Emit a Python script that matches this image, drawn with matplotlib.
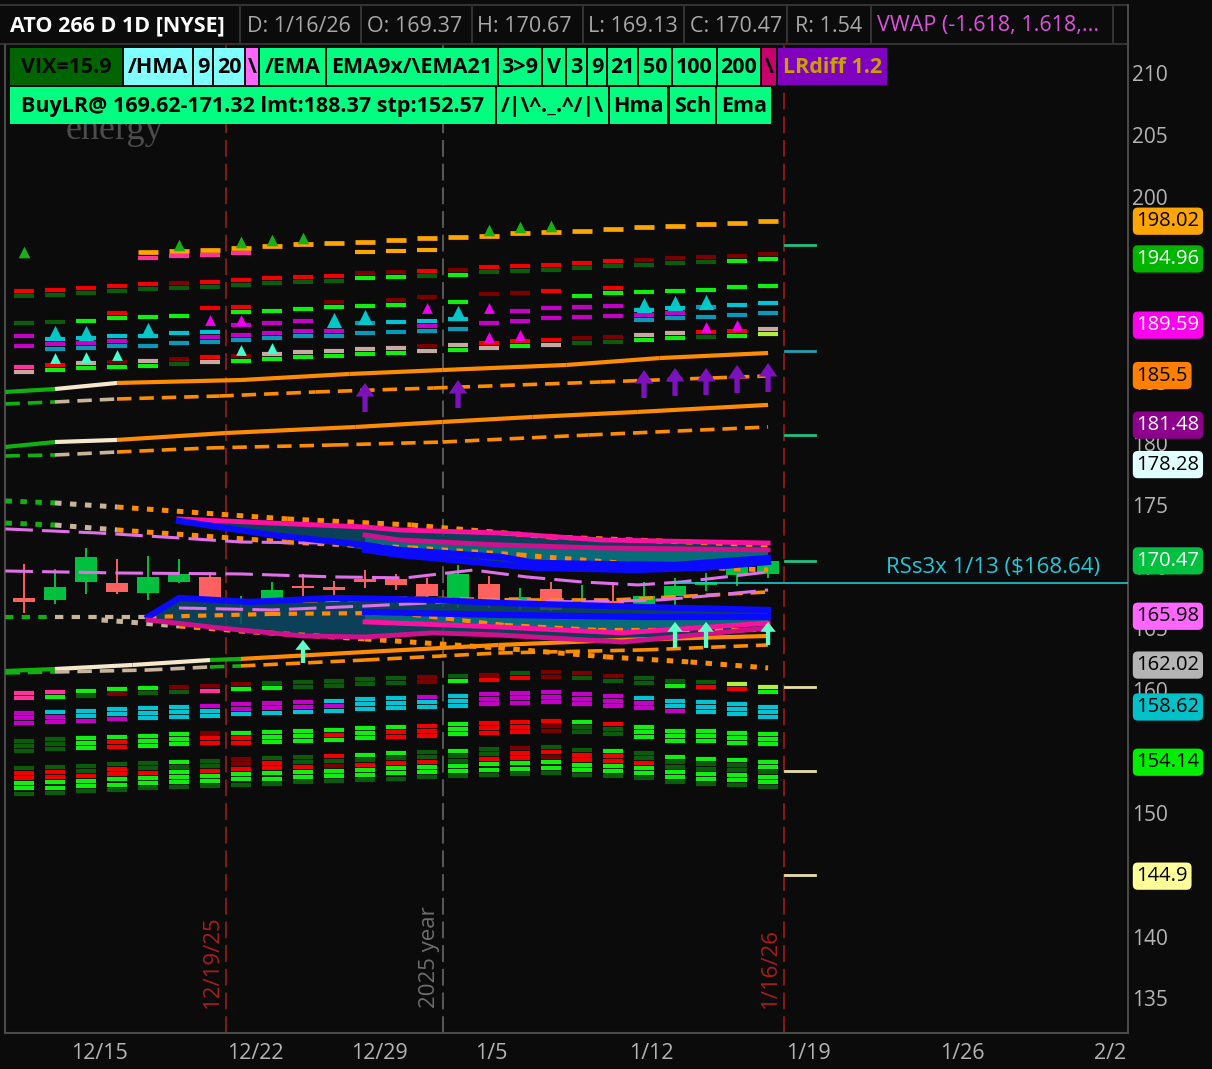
import numpy as np
import matplotlib
matplotlib.use('Agg')
import matplotlib.pyplot as plt
from matplotlib.collections import LineCollection
from matplotlib.patches import Rectangle, Polygon
from matplotlib.transforms import blended_transform_factory

plt.rcParams['font.family'] = ['Open Sans', 'DejaVu Sans']
nan = np.nan

BG = '#0b0b0b'
W, H = 1212, 1069

# ---------------- data ----------------
# daily candles 12/11/25 .. 1/16/26 (x = trading day index)
opens  = [167.46, 167.30, 168.76, 168.68, 167.87, 168.76, 169.17, 166.98, 167.38, 168.43, 168.36, 169.00, 169.00,
          168.60, 167.14, 168.60, 167.38, 168.19, 166.81, 167.22, 166.90, 167.62, 168.52, 169.33, 169.37]
highs  = [170.14, 169.73, 171.44, 170.54, 170.79, 170.54, 169.49, 167.54, 168.68, 169.33, 168.76, 169.65, 169.33,
          169.00, 170.06, 169.17, 168.19, 168.68, 168.43, 168.68, 168.68, 169.00, 169.41, 169.98, 170.67]
lows   = [166.33, 167.06, 167.87, 167.87, 167.38, 168.76, 167.22, 165.43, 167.38, 167.71, 167.46, 168.36, 168.19,
          167.62, 166.73, 166.73, 166.65, 166.49, 166.81, 166.81, 166.90, 166.81, 168.11, 168.52, 169.13]
closes = [167.14, 168.36, 170.79, 167.95, 169.17, 169.41, 167.22, 167.38, 168.11, 168.27, 168.11, 168.76, 168.52,
          167.62, 169.41, 167.14, 167.54, 166.49, 167.06, 166.81, 167.62, 168.43, 168.76, 169.98, 170.47]

date_labels = ['12/15', '12/22', '12/29', '1/5', '1/12', '1/19', '1/26', '2/2']
date_pos = [2.42, 7.45, 11.45, 15.06, 20.23, 25.29, 30.26, 35.03]
price_ticks = [135, 140, 150, 160, 165, 170, 175, 180, 185, 200, 205, 210]

event_x = [6.5, 13.5, 24.5]
event_text = ['12/19/25', '2025 year', '1/16/26']
event_col = ['#a81c1c', '#6e6e6e', '#a81c1c']

# regression channel lines (x, price, colour code per segment)
lr1_x = [-0.6, 1, 3, 7, 10.5, 13.5, 17.5, 20.5, 24]
lr1_y = [184.17, 184.41, 184.90, 185.14, 185.63, 185.95, 186.36, 186.92, 187.33]
lr1_c = 'gcoooooo'
lr1d_x = [-0.6, 1, 3, 6.3, 9.4, 13.2, 18.6, 24]
lr1d_y = [183.20, 183.36, 183.60, 183.84, 184.17, 184.49, 184.98, 185.47]
lr1d_c = 'gtooooo'
lr2_x = [-0.6, 1, 3, 6.5, 10.7, 13.5, 16.4, 19.8, 24]
lr2_y = [179.71, 180.11, 180.28, 180.84, 181.33, 181.74, 182.14, 182.55, 183.12]
lr2_c = 'gcoooooo'
lr2d_x = [-0.6, 1, 3, 6, 10, 13.5, 18.2, 24]
lr2d_y = [178.98, 179.06, 179.30, 179.63, 179.87, 180.11, 180.68, 181.33]
lr2d_c = 'gtooooo'
lr3_x = [-0.6, 1, 3.5, 6, 7, 11, 15.3, 19.3, 24]
lr3_y = [161.54, 161.70, 162.03, 162.43, 162.52, 163.08, 163.65, 164.06, 164.38]
lr3_c = 'gccgoooo'
lr3d_x = [-0.6, 1, 4, 6, 7, 11, 15.3, 20, 24]
lr3d_y = [161.38, 161.46, 161.62, 161.87, 161.95, 162.43, 163.00, 163.25, 163.65]
lr3d_c = 'gttgoooo'

d1_x = [-0.6, 1, 3, 8.5, 12.5, 17, 24]
d1_y = [175.33, 175.17, 174.84, 173.87, 173.38, 172.41, 171.76]
d1_c = 'gtoooo'
d2_x = [-0.6, 1, 3, 8.5, 12.5, 16, 20, 24]
d2_y = [173.54, 173.38, 172.98, 172.00, 171.52, 170.95, 170.14, 169.73]
d2_c = 'gtooooo'
d3_x = [-0.6, 1, 4, 8, 12, 15.5, 18.5, 24]
d3_y = [165.92, 165.92, 165.92, 166.17, 166.25, 165.27, 164.87, 164.87]
d3_c = 'gtoooooo'
d4_x = [2.5, 5, 7.4, 11, 15.3, 18.8, 21.5, 24]
d4_y = [165.68, 165.19, 164.70, 164.14, 163.41, 162.68, 162.27, 161.79]
d4_c = 'tooooooo'
od1_x = [9, 12.5, 16, 19, 21.5, 24]
od1_y = [167.22, 167.46, 167.30, 167.30, 167.62, 167.95]

# vwap lines
vw0_x = [-0.6, 3, 7, 10, 12.3, 14.5, 16.2, 18, 19.8, 21.2, 24]
vw0_y = [169.65, 169.49, 169.41, 169.17, 169.09, 169.73, 169.17, 168.76, 168.52, 168.76, 169.57]
vw1_x = [-0.6, 2.4, 5, 7, 9.7]
vw1_y = [173.06, 172.73, 172.33, 172.00, 171.92]
vw2_x = [5, 8, 11, 15, 18, 20.5, 22, 24]
vw2_y = [166.65, 166.49, 166.81, 167.30, 167.14, 167.30, 167.62, 168.11]

# upper cloud
ub_top_x = [5, 8, 11, 12.1, 15.4, 18.6, 24]
ub_top_y = [173.87, 173.54, 173.22, 172.98, 172.73, 172.17, 171.92]
ub_m2_x = [11, 12.1, 15.4, 18.6, 24]
ub_m2_y = [172.57, 172.17, 171.76, 171.52, 171.36]
ub_b1_x = [5, 8, 11, 12.1, 15.4, 16.5, 21, 24]
ub_b1_y = [173.71, 172.57, 171.76, 171.36, 170.79, 170.30, 170.14, 170.71]
ub_b2_x = [11, 12.1, 16.5, 19.7, 21.9, 24]
ub_b2_y = [171.36, 170.95, 169.90, 169.73, 169.90, 170.38]
# lower cloud
lb_b1_x = [4, 5, 7.3, 10, 13.2, 15.3, 20, 24]
lb_b1_y = [165.92, 167.46, 167.14, 167.46, 167.30, 167.06, 166.73, 166.49]
lb_b2_x = [11, 15.3, 20, 24]
lb_b2_y = [166.33, 166.09, 165.92, 165.92]
lb_m2_x = [11, 15.3, 19.3, 24]
lb_m2_y = [165.52, 165.11, 164.63, 165.43]
lb_m1_x = [4, 6.3, 9, 11, 13.2, 15.3, 19.3, 24]
lb_m1_y = [165.68, 165.03, 164.38, 164.30, 164.63, 164.46, 163.89, 165.03]

# stacked level dashes (top level per day, colour codes from the top down)
uo_base = [nan, nan, nan, nan, 195.52, 195.60, 195.69, 195.85, 196.01, 196.17, 196.25, 196.34, 196.50,
           196.66, 196.74, 196.82, 197.06, 197.15, 197.23, 197.39, 197.55, 197.63, 197.79, 197.87, 198.04]
uo_codes = 'O' * 25
ub2_base = [nan, nan, nan, nan, 195.04, 195.20, 195.28, 195.44, nan, nan, nan, 195.52, 195.60,
            195.69, nan, nan, nan, nan, nan, nan, nan, nan, nan, nan, nan]
ub2_codes = '....PPPP...OOO...........'
u2_base = [192.36, 192.44, 192.60, 192.77, 192.93, 193.01, 193.09, 193.25, 193.41, 193.50, 193.58, 193.82, 193.90,
           193.98, 194.06, 194.31, 194.39, 194.47, 194.63, 194.79, 194.87, 195.04, 195.12, 195.20, 195.36]
u2_codes = ['Rg', 'Rg', 'Rg', 'Rg', 'Rg', 'rg', 'Rg', 'Rg', 'Rg', 'Rg', 'Rg', 'rG', 'rG',
            'Rg', 'rG', 'Rg', 'Rg', 'Rg', 'Rg', 'Rg', 'rg', 'rg', 'rg', 'rG', 'rG']
u3_base = [190.17, 190.25, 190.33, 190.57, 190.66, 190.74, 190.98, 191.06, 191.14, 191.31, 191.47, 191.55, 191.63,
           191.87, 191.87, 192.12, 192.20, 192.36, 192.36, 192.60, 192.68, 192.77, 192.85, 193.09, 193.17]
u3_codes = ['.g', '.g', '.G', 'RG', '.G', '.G', 'R.', 'RG', '.G', '.G', 'rG', '.G', 'rG',
            'r.', '.G', 'r.', 'r.', 'R.', '.G', 'RG', '.G', '.G', '.G', '.G', '.G']
u4_base = [189.12, 188.87, 188.95, 189.12, 189.12, 189.36, 189.44, 189.60, 189.77, 189.93, 189.93, 190.17, 190.25,
           190.33, 190.50, 189.77, 190.74, 190.98, 191.06, 191.14, 190.82, 190.98, 191.06, 191.23, 191.39]
u4_codes = ['.M.M', '.CMT', '.CMT', '.CMT', '.C.T', '.C.T', '.CMT', 'M.MT', 'M.MT', 'M.MT', '..MT', '.T.T', '.C.T',
            '.CMT', '.C.T', 'M...', 'M.M.', 'M.M.', 'M.M.', 'M.M.', 'CMT.', 'CMT.', 'T.T.', 'C.T.', 'C.T.']
u5_base = [186.19, 186.36, 186.52, 186.60, 186.68, 186.85, 187.01, 187.09, 187.25, 187.41, 187.49, 187.66, 187.74,
           187.90, 187.98, 188.14, 188.31, 188.39, 188.55, 188.63, 188.79, 188.95, 189.04, 189.12, 189.28]
u5_codes = ['PN', 'RG', 'NG', 'rG', 'NG', 'rg', 'RN', 'rG', 'NG', 'NG', 'NG', 'NG', 'NG',
            'rN', 'NG', 'RN', 'RG', 'RN', 'rg', 'rg', 'NG', 'NG', 'Rg', 'RG', 'NL']

la_base = [159.73, 159.86, 159.92, 160.06, 160.16, 160.27, 160.35, 160.46, 160.54, 160.65, 160.75, 160.86, 160.97,
           161.05, 161.16, 161.24, 161.35, 161.46, 161.35, 161.16, 160.94, 160.75, 160.62, 160.46, 160.24]
la_codes = ['PP', 'PG', 'Gg', 'Gr', 'Gg', 'rg', 'rP', 'rG', 'gG', 'gg', 'gg', 'gg', 'gg',
            'rr', 'gG', 'rR', 'gR', 'rr', 'rg', 'rg', 'gg', 'gG', 'gR', 'LR', 'LG']
lb_base = [158.16, 158.22, 158.30, 158.43, 158.52, 158.62, 158.73, 158.84, 158.92, 159.00, 159.11, 159.24, 159.33,
           159.43, 159.54, 159.65, 159.73, 159.86, 159.68, 159.54, 159.33, 159.13, 159.00, 158.87, 158.65]
lb_codes = ['MMM', 'CMM', 'CCM', 'CCM', 'CCC', 'CCC', 'MCC', 'MMC', 'MMC', 'MMC', 'CMC', 'CCC', 'CCC',
            'MCC', 'CCC', 'MMM', 'MMM', 'MMM', 'MMM', 'MMM', 'CMM', 'CCM', 'CCC', 'CCC', 'CCC']
lc_base = [155.89, 156.00, 156.08, 156.19, 156.29, 156.41, 156.51, 156.54, 156.62, 156.70, 156.78, 156.89, 157.00,
           157.10, 157.22, 157.30, 157.40, 157.49, 157.40, 157.22, 157.03, 156.70, 156.65, 156.51, 156.41]
lc_codes = ['ggg', 'ggg', 'GGG', 'GRR', 'GGG', 'GGG', 'rRR', 'GRR', 'GGG', 'GGG', 'GRG', 'GGG', 'GRR',
            'RRR', 'GGG', 'RRR', 'RRR', 'Rrr', 'Ggg', 'Rgg', 'GGG', 'GGG', 'GGG', 'GGG', 'GGG']
ld_base = [153.65, 153.73, 153.84, 153.97, 154.06, 154.19, 154.27, 154.38, 154.46, 154.57, 154.65, 154.75, 154.87,
           154.97, 155.08, 155.19, 155.27, 155.35, 155.16, 155.05, 154.89, 154.59, 154.43, 154.32, 154.19]
ld_codes = ['gRRGGg', 'gRRGGg', 'ggRGGg', 'gRRGGg', 'ggRGGg', 'GgGGGg', 'ggRGGg', 'rrRGGg', 'gRRGGg', 'ggRGGg',
            'RgrGGg', 'GgRGGg', 'GgRGGg', 'ggRGGg', 'GggGGg', 'ggRGGg', 'rRRGGg', 'gRrGGg', 'gRRGGg', 'GRRGGg',
            'ggRGGg', 'GggGGg', 'GggGGg', 'GggGGg', 'GGgGGg']

# signal markers
tri_green_x = [0, 5, 7, 8, 9, 15, 16, 17]
tri_green_y = [195.52, 196.09, 196.34, 196.50, 196.66, 197.31, 197.55, 197.63]
tri_cyan_x = [1, 2, 4, 10, 11, 14, 20, 21, 22]
tri_cyan_y = [188.95, 188.95, 189.20, 190.01, 190.25, 190.58, 191.23, 191.39, 191.47]
tri_aqua_x = [1, 2, 3, 7, 8]
tri_aqua_y = [186.93, 187.01, 187.17, 187.58, 187.74]
tri_mag_x = [6, 7, 13, 15, 15, 16, 22, 23]
tri_mag_y = [190.01, 190.01, 190.98, 190.98, 188.63, 188.79, 189.44, 189.60]

arrow_p_x = [11, 14, 20, 21, 22, 23, 24]
arrow_p_tip = [184.90, 185.14, 185.95, 186.12, 186.12, 186.36, 186.52]
arrow_p_base = [182.55, 182.87, 183.68, 183.85, 183.93, 184.09, 184.17]
arrow_a_x = [9, 21, 22, 24]
arrow_a_tip = [164.06, 165.52, 165.52, 165.52]
arrow_a_base = [162.19, 163.41, 163.41, 163.65]

mark_vals = [196.09, 187.49, 180.68, 170.46, 160.24, 153.43, 144.99]
mark_cols = ['#20c080', '#20a0a8', '#20c080', '#20c080', '#e8e0a0', '#e8e0a0', '#e8e0a0']

rs_price = 168.64
rs_start = 21

lab_vals = [198.02, 194.96, 189.59, 185.5, 181.48, 178.28, 170.47, 165.98, 162.02, 158.62, 154.14, 144.9]
lab_bg = ['#ffa500', '#00b400', '#ff00ee', '#ff8000', '#8c008c', '#e0ffff', '#00c040', '#ff66ff',
          '#b4b4b4', '#00c0c8', '#00ee00', '#ffff99']
lab_fg = ['black', 'white', 'white', 'black', 'white', 'black', 'white', 'black',
          'black', 'black', 'black', 'black']

PAL = {'G': '#10f010', 'g': '#0a5c0a', 'R': '#f00000', 'r': '#7a0000', 'M': '#c400c8', 'C': '#00c4d4',
       'T': '#0898b8', 'P': '#ff3399', 'N': '#c8a8a0', 'L': '#b0f040', 'O': '#ffa500'}
LC = {'g': '#10b010', 'c': '#f5e8cc', 't': '#c8b49a', 'o': '#ff8c00'}
GREEN, RED = '#00c040', '#ff6060'
PURPLE, AQUA = '#7c12bc', '#60ffc8'
BLUE, MAG, MAG2 = '#0a0aff', '#ff10a0', '#d0108c'

# ---------------- figure ----------------
fig = plt.figure(figsize=(W / 100, H / 100), dpi=100, facecolor=BG)
ax = fig.add_axes([5 / W, (H - 1033) / H, 1123 / W, 988 / H], facecolor=BG)
ax.set_xlim(-0.613, 35.61)
ax.set_ylim(132.18, 212.31)

for s in ['left', 'bottom', 'right']:
    ax.spines[s].set_color('#4a4a4a')
    ax.spines[s].set_linewidth(1.5)
ax.spines['top'].set_visible(False)

ax.yaxis.tick_right()
ax.set_yticks(price_ticks)
ax.tick_params(axis='y', length=0, pad=3, labelsize=15, labelcolor='#b4b4b4')
ax.set_xticks(date_pos)
ax.set_xticklabels(date_labels)
ax.tick_params(axis='x', length=0, pad=7, labelsize=15.5, labelcolor='#b4b4b4')

# event lines
for ex, et, ec in zip(event_x, event_text, event_col):
    ax.axvline(ex, color=ec, lw=1.1, ls=(0, (11, 4.5)), zorder=1)
    ax.text(ex - 0.42, 134.2, et, rotation=90, ha='center', va='bottom', color=ec, fontsize=16, zorder=1)


def seg_line(xs, ys, codes, ls, lw, z=4):
    for k in range(len(xs) - 1):
        ax.plot(xs[k:k + 2], ys[k:k + 2], color=LC[codes[k]], ls=ls, lw=lw, zorder=z,
                solid_capstyle='butt', dash_capstyle='butt')


def ladder(base, codes, step=0.41, half=0.33, lw=3.0):
    segs, cols = [], []
    for i, (b, code) in enumerate(zip(base, codes)):
        if np.isnan(b):
            continue
        for k, ch in enumerate(code):
            if ch == '.':
                continue
            y = b - k * step
            segs.append([(i - half, y), (i + half, y)])
            cols.append(PAL[ch])
    ax.add_collection(LineCollection(segs, colors=cols, linewidths=lw, zorder=4, capstyle='butt'))


def up_arrow(i, tip, base, color, hw, hh, sw):
    pts = [(i, tip), (i + hw, tip - hh), (i + sw, tip - hh), (i + sw, base),
           (i - sw, base), (i - sw, tip - hh), (i - hw, tip - hh)]
    ax.add_patch(Polygon(pts, closed=True, fc=color, ec='none', zorder=7))


# candles
for i in range(len(opens)):
    o, c = opens[i], closes[i]
    col = GREEN if c >= o else RED
    ax.plot([i, i], [lows[i], highs[i]], color=col, lw=1.4, zorder=3)
    lo, hi = min(o, c), max(o, c)
    ax.add_patch(Rectangle((i - 0.36, lo), 0.72, max(hi - lo, 0.08), fc=col, ec='none', zorder=3))

# clouds (fills)
ub_bot_x = ub_b1_x[:2] + ub_b2_x
ub_bot_y = ub_b1_y[:2] + ub_b2_y
ax.fill(ub_top_x + ub_bot_x[::-1], ub_top_y + ub_bot_y[::-1], color='#0b4a66', alpha=0.85, lw=0, zorder=3.5)
ax.fill(ub_m2_x + ub_b1_x[2:][::-1], ub_m2_y + ub_b1_y[2:][::-1], color='#08707c', alpha=0.9, lw=0, zorder=3.6)
ax.fill(lb_b1_x + lb_m1_x[::-1], lb_b1_y + lb_m1_y[::-1], color='#0b4a66', alpha=0.85, lw=0, zorder=3.5)
ax.fill(lb_b2_x + lb_m2_x[::-1], lb_b2_y + lb_m2_y[::-1], color='#08707c', alpha=0.9, lw=0, zorder=3.6)

# regression lines
dash = (0, (4, 2.2))
dots = (0, (1.3, 1.7))
seg_line(lr1_x, lr1_y, lr1_c, '-', 3)
seg_line(lr1d_x, lr1d_y, lr1d_c, dash, 2.6)
seg_line(lr2_x, lr2_y, lr2_c, '-', 3)
seg_line(lr2d_x, lr2d_y, lr2d_c, dash, 2.6)
seg_line(lr3_x, lr3_y, lr3_c, '-', 3)
seg_line(lr3d_x, lr3d_y, lr3d_c, dash, 2.6)
seg_line(d1_x, d1_y, d1_c, dots, 3.6)
seg_line(d2_x, d2_y, d2_c, dots, 3.6)
seg_line(d3_x, d3_y, d3_c, (0, (2, 2)), 3.0)
seg_line(d4_x, d4_y, d4_c, dots, 3.6)
ax.plot(od1_x, od1_y, color='#ff8c00', lw=2.6, ls=dash, zorder=4)

# vwap lines
for xs, ys in [(vw0_x, vw0_y), (vw1_x, vw1_y), (vw2_x, vw2_y)]:
    ax.plot(xs, ys, color='#e070e8', lw=2.2, ls=(0, (9, 3)), zorder=4.5)

# cloud edges
ax.plot(ub_top_x, ub_top_y, color=MAG, lw=3.5, zorder=5)
ax.plot(ub_m2_x, ub_m2_y, color=MAG2, lw=3.5, zorder=5)
ax.plot(ub_b1_x, ub_b1_y, color=BLUE, lw=4.5, zorder=5)
ax.plot(ub_b2_x, ub_b2_y, color=BLUE, lw=4.5, zorder=5)
ax.plot(lb_b1_x, lb_b1_y, color=BLUE, lw=4.5, zorder=5)
ax.plot(lb_b2_x, lb_b2_y, color=BLUE, lw=4.5, zorder=5)
ax.plot(lb_m2_x, lb_m2_y, color=MAG, lw=3.5, zorder=5)
ax.plot(lb_m1_x, lb_m1_y, color=MAG2, lw=3.5, zorder=5)

# stacked level dashes
ladder(uo_base, uo_codes, lw=3.4)
ladder(ub2_base, ub2_codes)
for b, c in [(u2_base, u2_codes), (u3_base, u3_codes), (u4_base, u4_codes), (u5_base, u5_codes),
             (la_base, la_codes), (lb_base, lb_codes), (lc_base, lc_codes), (ld_base, ld_codes)]:
    ladder(b, c)

# triangles and arrows
ax.scatter(tri_green_x, tri_green_y, marker='^', s=70, color='#18b018', lw=0, zorder=6)
ax.scatter(tri_cyan_x, tri_cyan_y, marker='^', s=120, color='#00c8c8', lw=0, zorder=6)
ax.scatter(tri_aqua_x, tri_aqua_y, marker='^', s=60, color='#40ffd0', lw=0, zorder=6)
ax.scatter(tri_mag_x, tri_mag_y, marker='^', s=60, color='#ee00ee', lw=0, zorder=6)
for i, t, b in zip(arrow_p_x, arrow_p_tip, arrow_p_base):
    up_arrow(i, t, b, PURPLE, 0.3, 1.1, 0.085)
for i, t, b in zip(arrow_a_x, arrow_a_tip, arrow_a_base):
    up_arrow(i, t, b, AQUA, 0.25, 0.8, 0.07)

# short markers right of the last bar
for v, c in zip(mark_vals, mark_cols):
    ax.plot([24.55, 25.52], [v, v], color=c, lw=2, zorder=4)

# RS line
ax.hlines(rs_price, rs_start, 35.61, color='#20c8d0', lw=1.2, zorder=6)
ax.text(34.71, rs_price + 0.45, 'RSs3x 1/13 ($168.64)', ha='right', va='bottom', color='#20c8d8',
        fontsize=16, zorder=6)

# price bubbles on the axis
tr = blended_transform_factory(ax.transAxes, ax.transData)
for v, bg, fg in zip(lab_vals, lab_bg, lab_fg):
    ax.text(1.0075, v, f'{v:g}', transform=tr, ha='left', va='center', color=fg, fontsize=14.5,
            clip_on=False, zorder=10,
            bbox=dict(boxstyle='round,pad=0.18,rounding_size=0.25', fc=bg, ec='none'))

# ---------------- header overlay ----------------
ov = fig.add_axes([0, 0, 1, 1], zorder=10)
ov.set_xlim(0, W)
ov.set_ylim(H, 0)
ov.axis('off')

ov.plot([0, 1128], [5, 5], color='#3c3c3c', lw=1.2)
ov.plot([0, 1128], [44, 44], color='#3c3c3c', lw=1.2)
ov.plot([1128, 1128], [5, 46], color='#4a4a4a', lw=1.5)
for sx in [240, 361, 472, 583, 684, 787, 871, 1113]:
    ov.plot([sx, sx], [7, 42], color='#3c3c3c', lw=1.2)

head = [(10, 'ATO 266 D 1D [NYSE]', 'white', 'bold'), (247, 'D: 1/16/26', '#a8a8a8', 'normal'),
        (367, 'O: 169.37', '#a8a8a8', 'normal'), (477, 'H: 170.67', '#a8a8a8', 'normal'),
        (588, 'L: 169.13', '#a8a8a8', 'normal'), (690, 'C: 170.47', '#a8a8a8', 'normal'),
        (795, 'R: 1.54', '#a8a8a8', 'normal'), (877, 'VWAP (-1.618, 1.618,...', '#e050e0', 'normal')]
for hx, ht, hc, hw in head:
    ov.text(hx, 26, ht, color=hc, fontsize=15.5, fontweight=hw, ha='left', va='center')

ov.text(66, 139, 'energy', family='Liberation Serif', fontsize=26, color='#4c4c4c', va='baseline', zorder=1)

SG = '#00ff80'
row2 = [(10, 122, 'VIX=15.9', '#006400', '#0a0a0a'), (124, 192, '/HMA', '#80ffff', 'black'),
        (194, 212, '9', '#80ffff', 'black'), (214, 244, '20', '#80ffff', 'black'),
        (246, 258, '\\', '#ff66ff', 'black'), (260, 325, '/EMA', SG, 'black'),
        (327, 497, 'EMA9x/\\EMA21', SG, 'black'), (499, 541, '3>9', SG, 'black'),
        (543, 565, 'V', SG, 'black'), (567, 586, '3', SG, 'black'), (588, 606, '9', SG, 'black'),
        (608, 637, '21', SG, 'black'), (639, 671, '50', SG, 'black'), (673, 716, '100', SG, 'black'),
        (718, 760, '200', SG, 'black'), (762, 776, '\\', '#c8006e', 'black'),
        (778, 887, 'LRdiff 1.2', '#8000c0', '#c8a000')]
row3 = [(10, 495, 'BuyLR@ 169.62-171.32 lmt:188.37 stp:152.57', SG, 'black'),
        (497, 608, '/|\\^._.^/|\\', SG, 'black'), (610, 667, 'Hma', SG, 'black'),
        (670, 715, 'Sch', SG, 'black'), (717, 771, 'Ema', SG, 'black')]
for (y0, y1, row) in [(48, 85, row2), (87, 124, row3)]:
    for x0, x1, t, bg, fg in row:
        ov.add_patch(Rectangle((x0, y0), x1 - x0, y1 - y0, fc=bg, ec='none', zorder=2))
        ov.text((x0 + x1) / 2, (y0 + y1) / 2 + 1, t, color=fg, fontsize=15.5, fontweight='bold',
                ha='center', va='center', zorder=3)

fig.savefig('out.png', dpi=100, facecolor=BG)
